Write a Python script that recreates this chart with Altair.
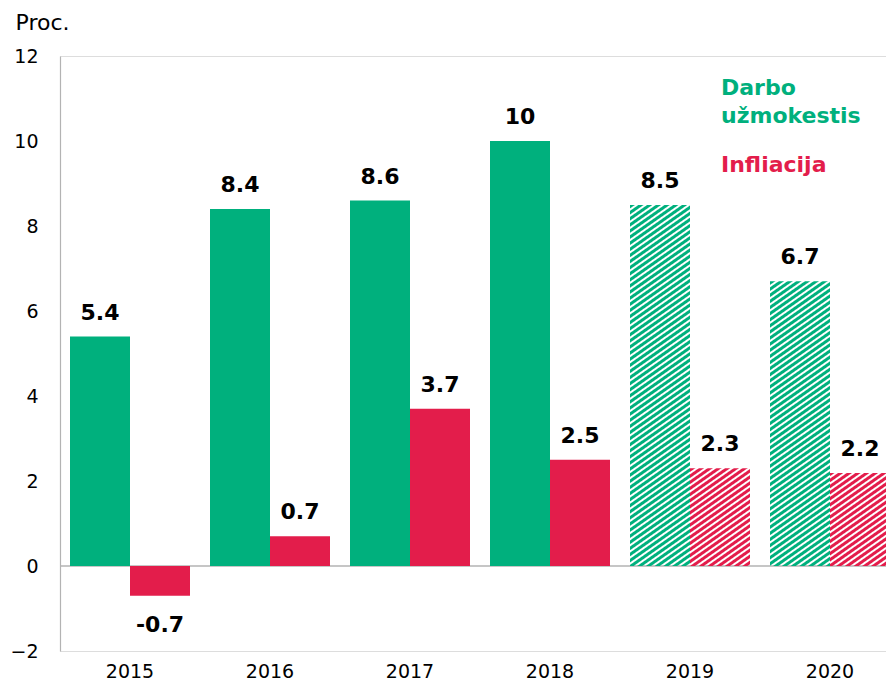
import base64
import altair as alt
import pandas as pd

# ---- data ----
years = ["2015", "2016", "2017", "2018", "2019", "2020"]
wage_growth = [5.4, 8.4, 8.6, 10.0, 8.5, 6.7]
inflation = [-0.7, 0.7, 3.7, 2.5, 2.3, 2.2]
forecast = [False, False, False, False, True, True]
series_names = ["Darbo užmokestis", "Infliacija"]
series_colors = ["#00B07D", "#E31D4B"]
legend_labels = ["Darbo\nužmokestis", "Infliacija"]
y_ticks = [-2, 0, 2, 4, 6, 8, 10, 12]

FONT = "DejaVu Sans"


def hatch_url(color):
    svg = (
        "<svg xmlns='http://www.w3.org/2000/svg' width='100%' height='100%' shape-rendering='crispEdges'>"
        "<defs><pattern id='h' patternUnits='userSpaceOnUse' width='5' height='10' "
        "patternTransform='rotate(55)'>"
        f"<rect x='0' y='0' width='2.7' height='10' fill='{color}'/>"
        "</pattern></defs>"
        "<rect x='0' y='0' width='100%' height='100%' fill='url(#h)'/></svg>"
    )
    return "data:image/svg+xml;base64," + base64.b64encode(svg.encode("utf-8")).decode("ascii")


hatches = {s: hatch_url(c) for s, c in zip(series_names, series_colors)}

rows = []
for i, yr in enumerate(years):
    for s, vals in zip(series_names, [wage_growth, inflation]):
        v = vals[i]
        rows.append(dict(year=yr, series=s, value=v, forecast=forecast[i],
                         label=f"{v:g}", hatch=hatches[s]))
df = pd.DataFrame(rows)

x = alt.X("year:N", sort=years,
          scale=alt.Scale(range=[0, 840], paddingInner=0, paddingOuter=0),
          axis=alt.Axis(title=None, labelAngle=0, domain=False, ticks=False,
                        labelPadding=11, labelFontSize=19, labelColor="#000"))
xo = alt.XOffset("series:N", sort=series_names,
                 scale=alt.Scale(domain=series_names, paddingInner=0, paddingOuter=1 / 6))
y = alt.Y("value:Q",
          scale=alt.Scale(domain=[-2, 12], nice=False, zero=False),
          axis=alt.Axis(values=y_ticks, grid=False, ticks=False, tickSize=0,
                        domainColor="#b3b3b3", domainWidth=1.2,
                        labelPadding=22, labelFontSize=19, labelColor="#000",
                        title="Proc.", titleAngle=0, titleAlign="left",
                        titleBaseline="alphabetic", titleX=-45, titleY=-27,
                        titleFontSize=22, titleFontWeight="normal", titleColor="#000"))

base = alt.Chart(df)

zero = alt.Chart(pd.DataFrame({"v": [0]})).mark_rule(color="#b3b3b3", strokeWidth=1.5).encode(
    y=alt.Y("v:Q")
)

bars = base.mark_bar().encode(
    x=x, xOffset=xo, y=y, y2=alt.datum(0),
    color=alt.Color("series:N", scale=alt.Scale(domain=series_names, range=series_colors), legend=None),
).transform_filter("!datum.forecast")

hatched = base.mark_image(aspect=False).encode(
    x=x, xOffset=xo, y=y, y2=alt.datum(0), url="hatch:N"
).transform_filter("datum.forecast")

labels_pos = base.mark_text(fontWeight="bold", fontSize=22, dy=-17, baseline="alphabetic",
                            color="#000").encode(
    x=x, xOffset=xo, y=y, text="label:N"
).transform_filter("datum.value >= 0")

labels_neg = base.mark_text(fontWeight="bold", fontSize=22, dy=36, baseline="alphabetic",
                            color="#000").encode(
    x=x, xOffset=xo, y=y, text="label:N"
).transform_filter("datum.value < 0")

leg1 = alt.Chart(pd.DataFrame({"t": [legend_labels[0]]})).mark_text(
    align="left", baseline="alphabetic", fontSize=22, fontWeight="bold",
    color=series_colors[0], lineBreak="\n", lineHeight=28
).encode(x=alt.value(661), y=alt.value(39), text="t:N")

leg2 = alt.Chart(pd.DataFrame({"t": [legend_labels[1]]})).mark_text(
    align="left", baseline="alphabetic", fontSize=22, fontWeight="bold",
    color=series_colors[1]
).encode(x=alt.value(661), y=alt.value(116), text="t:N")

chart = alt.layer(zero, bars, hatched, labels_pos, labels_neg, leg1, leg2).properties(
    width=826, height=595,
    autosize=alt.AutoSizeParams(type="none"),
    padding={"left": 52, "top": 48, "right": 0, "bottom": 30},
).configure_view(stroke=None).configure(font=FONT)

chart.save("out.html", embed_options={"renderer": "svg", "actions": False})
